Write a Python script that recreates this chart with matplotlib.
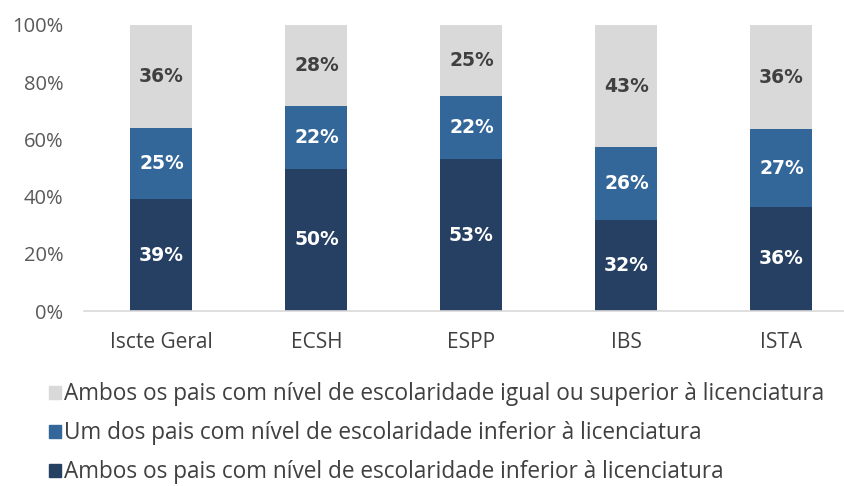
import numpy as np
import matplotlib.pyplot as plt
from matplotlib.patches import Patch

plt.rcParams['font.family'] = ['Open Sans', 'DejaVu Sans']

categories = ['Iscte Geral', 'ECSH', 'ESPP', 'IBS', 'ISTA']
# shares (labels are these rounded)
ambos_inferior = [0.391, 0.497, 0.531, 0.318, 0.364]
um_inferior = [0.248, 0.220, 0.220, 0.255, 0.272]
ambos_superior = [0.361, 0.283, 0.249, 0.427, 0.364]

series_names = ['Ambos os pais com nível de escolaridade inferior à licenciatura',
                'Um dos pais com nível de escolaridade inferior à licenciatura',
                'Ambos os pais com nível de escolaridade igual ou superior à licenciatura']
colors = ['#264063', '#336699', '#d9d9d9']
label_colors = ['white', 'white', '#404040']

fig = plt.figure(figsize=(8.45, 4.86), dpi=100)
ax = fig.add_axes([84/845, 1-311/486, 1-84/845, 286/486])

x = np.arange(len(categories))
bottom = np.zeros(len(categories))
for vals, c, lc in zip([ambos_inferior, um_inferior, ambos_superior], colors, label_colors):
    vals = np.array(vals)
    ax.bar(x, vals, 0.4, bottom=bottom, color=c, edgecolor='none')
    for xi, b, v in zip(x, bottom, vals):
        ax.text(xi, b + v/2, f'{round(v*100):.0f}%', ha='center', va='center',
                color=lc, fontsize=13.5, fontweight='bold', family='DejaVu Sans')
    bottom += vals

ax.set_xlim(-0.5, 4.41)
ax.set_ylim(0, 1)
ax.set_yticks(np.arange(0, 1.01, 0.2))
ax.set_yticklabels([f'{int(t*100)}%' for t in np.arange(0, 1.01, 0.2)],
                   color='#595959', fontsize=14.5)
ax.set_xticks(x)
ax.set_xticklabels(categories, color='#404040', fontsize=15)
ax.tick_params(length=0)
ax.tick_params(axis='x', pad=15)
ax.tick_params(axis='y', pad=15)
for s in ['top', 'right', 'left']:
    ax.spines[s].set_visible(False)
ax.spines['bottom'].set_color('#d9d9d9')
ax.spines['bottom'].set_linewidth(1.2)

handles = [Patch(color=c) for c in colors][::-1]
fig.legend(handles, series_names[::-1], loc='upper left', bbox_to_anchor=(38/845, 1-371/486),
           frameon=False, fontsize=16.3, labelcolor='#404040', handlelength=0.5,
           handleheight=0.5, handletextpad=0.15, labelspacing=0.66, borderpad=0)

fig.savefig('out.png', dpi=100)
